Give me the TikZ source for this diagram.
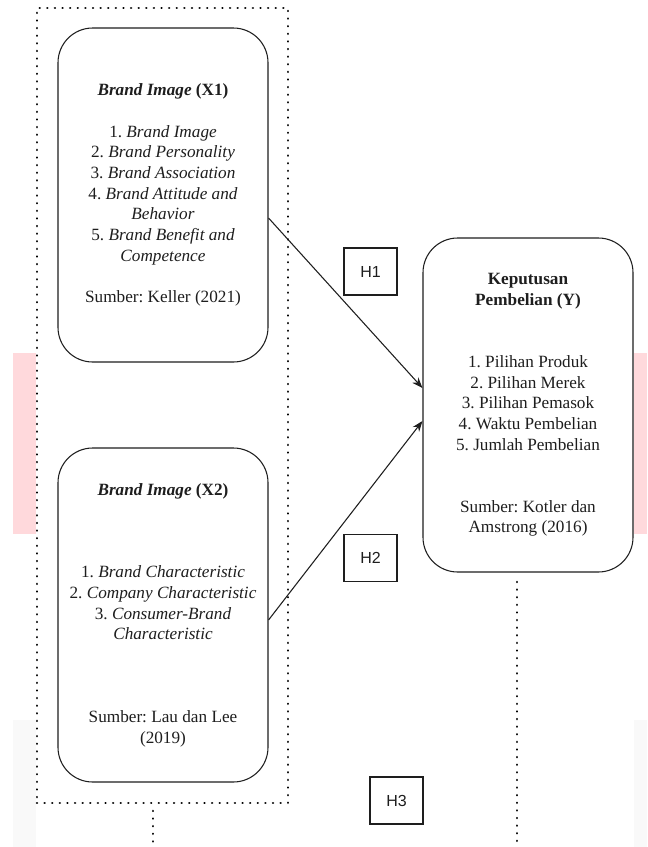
\documentclass[tikz,border=0pt]{standalone}
\usepackage{fontspec}
\setmainfont{Liberation Serif}
\newfontfamily\hfont{Liberation Sans}
\usetikzlibrary{arrows.meta,calc}
\definecolor{pinkbg}{HTML}{FFD9DC}
\definecolor{graybg}{HTML}{F9F9F9}
\definecolor{ink}{HTML}{1E1E1E}
\frenchspacing
\tikzset{
  varbox/.style={draw=ink, line width=0.8pt, rounded corners=26pt, fill=white,
    minimum width=157.5pt, minimum height=250.5pt, align=center, text=ink,
    inner sep=0pt, font=\fontsize{12.9}{15.5}\selectfont},
  hbox/.style={draw=ink, line width=0.8pt, fill=white, minimum width=39.75pt,
    minimum height=35.25pt, inner sep=0pt, text=ink, font=\hfont\fontsize{12}{14}\selectfont},
  dotline/.style={draw=black, line width=1.9pt, dash pattern=on 0.01pt off 5.7pt, line cap=round},
  conn/.style={draw=ink, line width=0.8pt, -{Stealth[length=8pt,width=6pt]}}
}
\begin{document}
\begin{tikzpicture}[x=0.75pt,y=-0.75pt]
\useasboundingbox (0,0) rectangle (647,847);
\fill[white] (0,0) rectangle (647,847);
% background strips
\fill[pinkbg] (13,353) rectangle (36,534);
\fill[pinkbg] (634,353) rectangle (647,534);
\fill[graybg] (13,720) rectangle (36,847);
\fill[graybg] (634,720) rectangle (647,847);
% group frame
\node[dotline, minimum width=188.25pt, minimum height=596.25pt, inner sep=0pt] (grp) at (162.5,405.5) {};
% boxes
\node[varbox] (X1) at (163,195) {%
  \textbf{\textit{Brand Image} (X1)}\\[15.5pt]
  1. \textit{Brand Image}\\
  2. \textit{Brand Personality}\\
  3. \textit{Brand Association}\\
  4. \textit{Brand Attitude and}\\
  \textit{Behavior}\\
  5. \textit{Brand Benefit and}\\
  \textit{Competence}\\[15.5pt]
  Sumber: Keller (2021)};
\node[varbox] (X2) at (163,615) {%
  \textbf{\textit{Brand Image} (X2)}\\[46.5pt]
  1. \textit{Brand Characteristic}\\
  2. \textit{Company Characteristic}\\
  3. \textit{Consumer-Brand}\\
  \textit{Characteristic}\\[46.5pt]
  Sumber: Lau dan Lee\\
  (2019)};
\node[varbox] (Y) at (528,405) {%
  \textbf{Keputusan}\\
  \textbf{Pembelian (Y)}\\[31pt]
  1. Pilihan Produk\\
  2. Pilihan Merek\\
  3. Pilihan Pemasok\\
  4. Waktu Pembelian\\
  5. Jumlah Pembelian\\[31pt]
  Sumber: Kotler dan\\
  Amstrong (2016)};
% hypothesis labels
\node[hbox] (H1) at (370.5,271.5) {H1};
\node[hbox] (H2) at (370.5,558) {H2};
\node[hbox] (H3) at (396.5,800.5) {H3};
% connectors
\draw[conn] ([yshift=-17.25pt]X1.east) -- ([yshift=12.75pt]Y.west);
\draw[conn] ([yshift=-3.75pt]X2.east) -- ([yshift=-12pt]Y.west);
% dotted drop lines
\coordinate (d1a) at (517,582);
\coordinate (d1b) at (517,847);
\coordinate (d2b) at (153,847);
\draw[dotline] (d1a) -- (d1b);
\draw[dotline] ([yshift=-5pt]grp.south -| d2b) -- (d2b);
\end{tikzpicture}
\end{document}
